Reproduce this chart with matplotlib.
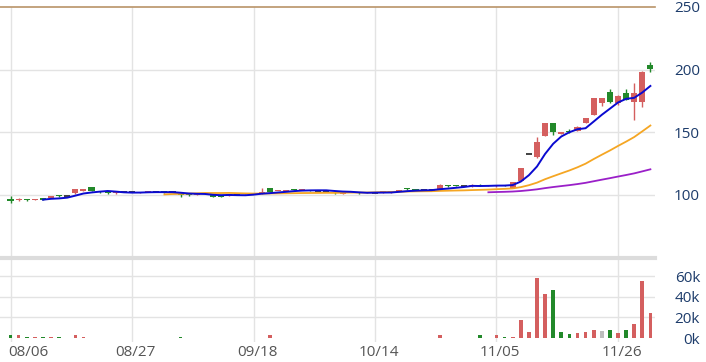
import matplotlib
matplotlib.use("Agg")
import matplotlib.pyplot as plt
import matplotlib.transforms as mtransforms
import numpy as np
import pandas as pd

plt.rcParams['font.family'] = ['Open Sans', 'DejaVu Sans']

# ---------------- data ----------------
opens = [97.0, 95.8, 96.8, 96.0, 97.5, 97.8, 99.9, 98.8, 101.2, 103.4,
         106.0, 102.5, 102.6, 101.2, 102.0, 102.0, 101.8, 102.1, 102.6, 103.2,
         102.0, 101.2, 100.8, 100.2, 100.6, 100.0, 99.6, 99.5, 100.5, 100.6,
         101.0, 101.2, 105.3, 103.0, 103.2, 104.6, 103.9, 104.0, 103.5, 103.5,
         102.6, 101.0, 102.2, 102.0, 101.4, 101.8, 102.0, 101.5, 103.0, 105.2,
         104.2, 103.6, 103.6, 105.0, 107.8, 107.2, 106.8, 106.8, 108.2, 107.0,
         106.8, 107.8, 105.5, 111.2, 133.0, 130.0, 147.3, 157.2, 149.0, 151.2,
         151.2, 157.7, 163.8, 173.1, 182.4, 173.1, 181.6, 174.4, 174.4, 203.7]
highs = [99.0, 97.8, 97.0, 96.8, 97.7, 99.3, 100.2, 98.8, 104.8, 105.0,
         106.3, 102.8, 103.0, 102.3, 102.0, 102.0, 102.4, 102.8, 102.6, 103.4,
         102.0, 101.4, 101.0, 101.6, 101.6, 100.2, 99.8, 100.8, 100.5, 101.3,
         101.0, 105.4, 105.8, 103.5, 103.8, 104.8, 104.4, 104.2, 103.5, 103.5,
         102.8, 102.3, 102.8, 102.2, 102.0, 101.8, 102.6, 103.0, 104.2, 105.5,
         104.4, 103.6, 103.6, 108.5, 108.0, 107.4, 106.8, 108.6, 108.4, 107.8,
         108.0, 108.0, 110.3, 121.5, 133.0, 146.0, 157.5, 157.5, 150.6, 152.5,
         155.0, 161.5, 177.3, 177.3, 184.4, 179.5, 184.2, 189.6, 198.6, 206.4]
lows = [93.5, 95.5, 95.5, 95.8, 96.1, 97.5, 98.6, 98.8, 101.0, 103.2,
        103.0, 101.8, 100.8, 101.0, 102.0, 102.0, 101.6, 102.0, 102.6, 101.8,
        102.0, 98.5, 99.4, 100.0, 100.5, 98.3, 98.2, 99.4, 100.5, 100.5,
        101.0, 101.0, 102.4, 102.8, 103.1, 103.6, 103.8, 103.4, 103.5, 103.5,
        101.0, 100.8, 102.0, 101.0, 101.3, 101.8, 101.9, 101.4, 102.9, 104.3,
        103.4, 103.6, 103.6, 104.8, 106.5, 106.6, 106.8, 106.6, 106.9, 106.8,
        106.5, 106.8, 105.3, 111.0, 133.0, 129.2, 147.0, 147.8, 148.6, 149.2,
        150.8, 157.3, 163.5, 171.0, 173.8, 172.0, 175.5, 159.8, 170.0, 198.4]
closes = [95.5, 97.2, 95.8, 96.5, 96.3, 99.0, 98.8, 98.8, 104.5, 104.8,
          103.2, 102.0, 101.5, 102.0, 102.0, 102.0, 102.2, 102.6, 102.6, 102.0,
          102.0, 99.8, 99.6, 101.3, 101.4, 98.6, 98.4, 100.5, 100.5, 101.0,
          101.0, 102.2, 102.6, 103.2, 103.6, 103.9, 104.2, 103.5, 103.5, 103.5,
          101.3, 102.0, 102.5, 101.3, 101.8, 101.8, 102.3, 102.8, 104.0, 104.5,
          103.6, 103.6, 103.6, 107.8, 107.0, 106.8, 106.8, 108.0, 107.2, 107.6,
          107.8, 107.0, 110.0, 121.2, 133.0, 142.5, 157.2, 150.5, 150.2, 150.0,
          154.5, 161.2, 177.1, 177.1, 174.4, 179.2, 175.8, 181.1, 198.4, 200.5]
volumes_k = [3.0, 3.0, 1.0, 1.0, 0.8, 1.0, 1.0, 0.0, 3.0, 1.0,
             0.3, 0.3, 0.3, 0.3, 0.0, 0.0, 0.2, 0.2, 0.0, 0.3,
             0.0, 1.0, 0.3, 0.3, 0.3, 0.3, 0.3, 0.2, 0.0, 0.2,
             0.0, 0.3, 3.0, 0.3, 0.2, 0.3, 0.2, 0.2, 0.0, 0.0,
             0.3, 0.3, 0.2, 0.3, 0.2, 0.0, 0.2, 0.3, 0.2, 0.3,
             0.2, 0.0, 0.0, 3.0, 0.3, 0.2, 0.0, 0.3, 3.0, 0.3,
             2.5, 1.0, 1.2, 17.0, 5.5, 58.5, 43.0, 46.5, 5.6, 4.3,
             4.6, 5.6, 8.2, 6.6, 7.3, 4.6, 7.3, 13.2, 55.4, 24.4]
date_labels = ['08/06', '08/27', '09/18', '10/14', '11/05', '11/26']
date_label_idx = [0, 15, 30, 45, 60, 75]
price_ticks = [100, 150, 200, 250]
volume_ticks = [0, 20, 40, 60]

# ---------------- style ----------------
UP = '#d45f5f'
DOWN = '#22892a'
FLAT = '#333333'
GRID = '#e3e3e3'
LABEL_BLUE = '#1d3c6b'
DATE_GRAY = '#555555'

W, H = 706, 362
fig = plt.figure(figsize=(W / 100, H / 100), dpi=100)

def fy(px):
    return 1 - px / H

x_right = 655 / W
ax = fig.add_axes([0, fy(258), x_right, fy(7) - fy(258)])
axv = fig.add_axes([0, fy(342), x_right, fy(258) - fy(342)])

n = len(closes)
idx = np.arange(n)
xlim = (-1.3, 79.57)

# ---- price panel ----
o = np.array(opens); c = np.array(closes); h = np.array(highs); l = np.array(lows)
for i in range(n):
    if abs(c[i] - o[i]) < 1e-9:
        col = FLAT
    elif c[i] > o[i]:
        col = UP
    else:
        col = DOWN
    if h[i] > l[i]:
        ax.vlines(i, l[i], h[i], color=col, linewidth=1, zorder=3)
    if col == FLAT:
        ax.hlines(c[i], i - 0.38, i + 0.38, color=col, linewidth=1.3, zorder=3)
    else:
        bottom = min(o[i], c[i])
        height = max(abs(c[i] - o[i]), 0.8)
        ax.bar(i, height, bottom=bottom, width=0.75, color=col, edgecolor='none', zorder=3)

s = pd.Series(closes)
ma5 = s.rolling(5).mean()
ma20 = s.rolling(20).mean()
ma60 = s.rolling(60).mean()
ax.plot(idx, ma60, color='#9a1fc8', linewidth=1.3, zorder=4)
ax.plot(idx, ma20, color='#f5a623', linewidth=1.3, zorder=4)
ax.plot(idx, ma5, color='#0a0ad0', linewidth=1.4, zorder=5)

ax.set_xlim(*xlim)
ax.set_ylim(250 - 251 / 1.2533, 250)
for v in price_ticks[:-1]:
    ax.axhline(v, color=GRID, linewidth=1, zorder=1)
ax.axhline(250, color='#b99468', linewidth=1.2, zorder=2, clip_on=False)
for k in date_label_idx:
    ax.axvline(k, color=GRID, linewidth=1, zorder=1)
ax.set_xticks([])
ax.yaxis.tick_right()
ax.set_yticks(price_ticks)
ax.set_yticklabels([str(v) for v in price_ticks])
ax.tick_params(axis='y', length=0, pad=32.4, labelsize=11, labelcolor=LABEL_BLUE)
for lab in ax.get_yticklabels():
    lab.set_horizontalalignment('right')
for sp in ax.spines.values():
    sp.set_visible(False)

# ---- volume panel ----
vcols = []
for i in range(n):
    ref = closes[i - 1] if i > 0 else opens[i]
    if closes[i] > ref:
        vcols.append(UP)
    elif closes[i] < ref:
        vcols.append(DOWN)
    else:
        vcols.append('#bdbdbd')
axv.bar(idx, volumes_k, width=0.45, color=vcols, zorder=3)
axv.set_xlim(*xlim)
axv.set_ylim(-(342 - 338) * 60 / 62, (338 - 258) * 60 / 62)
for v in volume_ticks[1:]:
    axv.axhline(v, color=GRID, linewidth=1, zorder=1)
axv.axhline((338 - 258) * 60 / 62, color='#dcdcdc', linewidth=3, zorder=2, clip_on=False)
for k in date_label_idx:
    axv.axvline(k, color=GRID, linewidth=1, zorder=1)
axv.yaxis.tick_right()
axv.set_yticks(volume_ticks)
axv.set_yticklabels([f'{v}k' for v in volume_ticks])
axv.tick_params(axis='y', length=0, pad=32.4, labelsize=11, labelcolor=LABEL_BLUE)
for lab in axv.get_yticklabels():
    lab.set_horizontalalignment('right')
axv.set_xticks(date_label_idx)
axv.set_xticklabels(date_labels)
axv.tick_params(axis='x', length=0, pad=2, labelsize=11, labelcolor=DATE_GRAY)
labs = axv.get_xticklabels()
for j, lab in enumerate(labs):
    if j == 0:
        lab.set_horizontalalignment('left')
        off = mtransforms.ScaledTranslation(-2.5 / 100, 0, fig.dpi_scale_trans)
    else:
        off = mtransforms.ScaledTranslation(3.5 / 100, 0, fig.dpi_scale_trans)
    lab.set_transform(lab.get_transform() + off)
for sp in axv.spines.values():
    sp.set_visible(False)

fig.savefig('out.png', dpi=100)
